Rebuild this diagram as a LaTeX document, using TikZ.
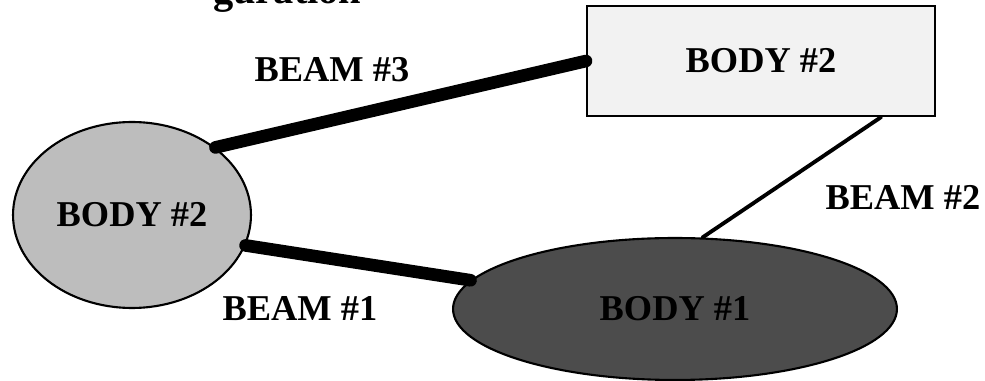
\documentclass[tikz,border=0pt]{standalone}
\usepackage{fontspec}
\setmainfont{Liberation Serif}
\usepackage{xcolor}
\usepackage{tikz}
\usetikzlibrary{positioning}
\usetikzlibrary{shapes.geometric}

\definecolor{lightdots}{gray}{0.74}
\definecolor{paledots}{gray}{0.95}
\definecolor{darkdots}{gray}{0.30}

\begin{document}
\begin{tikzpicture}
  [
    x=0.02cm, y=-0.02cm,
    body/.style={
       draw=black,
       line width=1.2pt,
       inner sep=0pt,
       font=\fontsize{20.7}{24}\selectfont\bfseries
    },
    beamlabel/.style={
       font=\fontsize{20.7}{24}\selectfont\bfseries
    },
    beam/.style={
       draw=black,
       line cap=round,
       line width=7.2pt
    },
    thinbeam/.style={
       draw=black,
       line cap=round,
       line width=2.2pt
    }
  ]
  \useasboundingbox (0,0) rectangle (985,381);

  \node (title) at (207,4) [anchor=base west, font=\fontsize{23}{27}\selectfont\bfseries] {guration};

  \node (body2a) at (132,215) [body, ellipse, fill=lightdots,
        minimum width=4.76cm, minimum height=3.72cm] {BODY \#2};
  \node (body2b) at (761,61)  [body, rectangle, fill=paledots,
        minimum width=6.96cm, minimum height=2.2cm] {BODY \#2};
  \node (body1)  at (675,309) [body, ellipse, fill=darkdots,
        minimum width=8.88cm, minimum height=2.84cm] {BODY \#1};

  \draw [beam]     (body2a.39)  -- (body2b.west);
  \draw [beam]     (body2a.-15) -- (body1.172);
  \draw [thinbeam] (body2b.-25) -- (body1.69);

  \node (lbeam3) at (332,70)  [beamlabel] {BEAM \#3};
  \node (lbeam2) at (903,198) [beamlabel] {BEAM \#2};
  \node (lbeam1) at (300,309) [beamlabel] {BEAM \#1};
\end{tikzpicture}
\end{document}
